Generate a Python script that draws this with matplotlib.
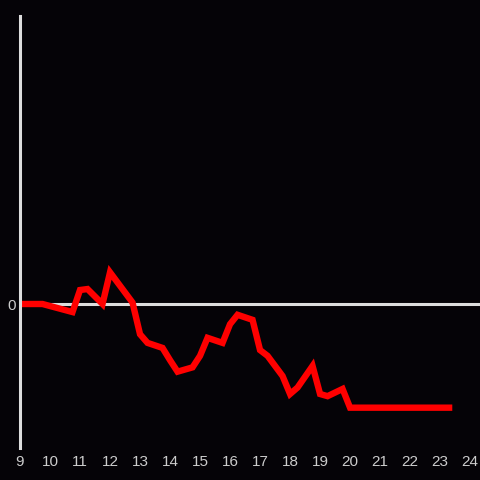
import matplotlib
matplotlib.use("Agg")
import matplotlib.pyplot as plt

# data (hours, value)
hours = [9, 9.75, 10.75, 11, 11.25, 11.75, 12, 12.75, 13, 13.25, 13.75, 14, 14.25,
         14.75, 15, 15.25, 15.75, 16, 16.25, 16.75, 17, 17.25, 17.75, 18, 18.25,
         18.75, 19, 19.25, 19.75, 20, 23.3]
values = [0, 0, -0.56, 0.97, 1.04, 0, 2.2, 0.1, -2.1, -2.7, -3.05, -3.9, -4.7,
          -4.4, -3.6, -2.35, -2.7, -1.4, -0.75, -1.1, -3.2, -3.6, -5.0, -6.25, -5.8,
          -4.3, -6.25, -6.4, -5.9, -7.2, -7.2]
xticks = list(range(9, 25))

bg = "#050307"
fg = "#dddddd"
label_col = "#cccccc"

fig = plt.figure(figsize=(4.8, 4.8), dpi=100)
fig.set_facecolor(bg)
ax = fig.add_axes([20 / 480, 32 / 480, 460 / 480, 432 / 480])
ax.set_facecolor(bg)

ax.axhline(0, color=fg, lw=2.2, zorder=1)
ax.plot(hours, values, color="#ff0000", lw=4.6, zorder=2, solid_joinstyle="miter")

ax.set_xlim(9, 24.33)
ax.set_ylim(-10, 20)
ax.set_xticks(xticks)
ax.set_yticks([0])
ax.tick_params(length=0, colors=label_col, labelsize=11)
ax.tick_params(axis="x", pad=5)
ax.tick_params(axis="y", pad=3)
for lab in ax.get_xticklabels() + ax.get_yticklabels():
    lab.set_family("Liberation Sans")

for s in ["top", "right", "bottom"]:
    ax.spines[s].set_visible(False)
ax.spines["left"].set_color(fg)
ax.spines["left"].set_linewidth(2.2)

fig.savefig("out.png", facecolor=bg)
